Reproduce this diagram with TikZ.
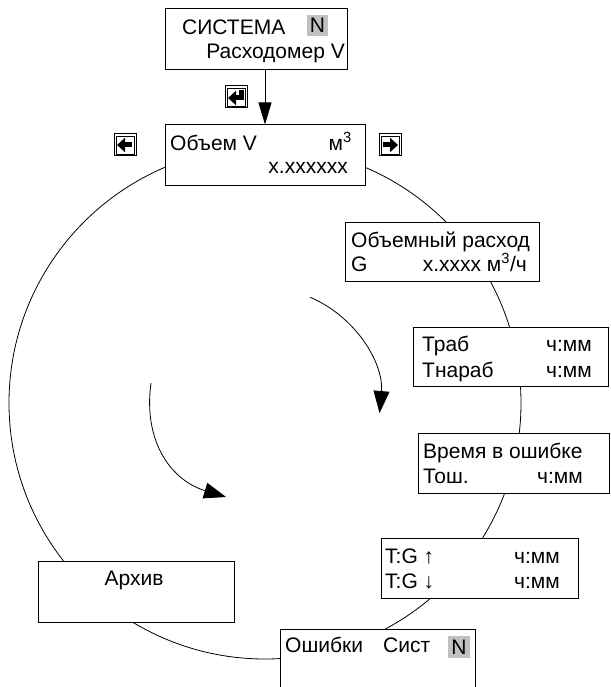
\documentclass[tikz,border=0pt]{standalone}
\usepackage{fontspec}
\setmainfont{Liberation Sans}
\usepackage{xcolor}
\usepackage{tikz}
\usetikzlibrary{arrows.meta}
\definecolor{nshade}{RGB}{192,192,192}
\newcommand{\scr}{\fontsize{21}{25}\selectfont}

\begin{document}
\begin{tikzpicture}[
  x=1pt, y=-1pt,
  every node/.style={font=\scr},
  screen/.style={draw, fill=white, line width=1pt, inner sep=0},
  ln/.style={anchor=base west, inner sep=0},
  rn/.style={anchor=base east, inner sep=0},
  flag/.style={fill=nshade, inner sep=0, minimum size=21pt},
  keycap/.style={draw, line width=1pt, minimum size=22pt, inner sep=0},
  keyarrow/.style={line width=5pt, -{Triangle[length=8pt,width=14pt]}},
  swirl/.style={line width=0.8pt, -{Triangle[length=22pt,width=16pt]}}
]
\useasboundingbox (0,0) rectangle (610,687);
\clip (0,0) rectangle (610,687);

\coordinate (ring) at (265,403);
\draw[line width=0.8pt] (ring) circle[radius=256pt];

% screens
\node[screen, minimum width=182pt, minimum height=61pt] (sys) at (256,39.5) {};
\node[screen, minimum width=200pt, minimum height=60pt] (vol) at (265,155) {};
\node[screen, minimum width=194pt, minimum height=59pt] (flow) at (442,251.5) {};
\node[screen, minimum width=195pt, minimum height=59pt] (trab) at (510.5,356.5) {};
\node[screen, minimum width=191pt, minimum height=60pt] (terr) at (513.5,463) {};
\node[screen, minimum width=197pt, minimum height=60pt] (tg) at (479.5,568) {};
\node[screen, minimum width=196pt, minimum height=61pt] (arch) at (136,591.5) {};
\node[screen, minimum width=195pt, minimum height=72pt] (errs) at (377.5,665) {};

\node[ln] (sysA) at (182,35) {СИСТЕМА};
\node[flag] (sysN) at (317.5,25.5) {N};
\node[rn] (sysB) at (345,59) {Расходомер V};

\node[ln] (volA) at (170,150) {Объем V};
\node[rn] (volU) at (352,150) {м\textsuperscript{3}};
\node[rn] (volB) at (348,173) {x.xxxxxx};

\node[ln] (flowA) at (351,247) {Объемный расход};
\node[ln] (flowG) at (351,271) {G};
\node[rn] (flowB) at (527,271) {x.xxxx м\textsuperscript{3}/ч};

\node[ln] (trabA) at (422,351) {Траб};
\node[rn] (trabAt) at (592,351) {ч:мм};
\node[ln] (trabB) at (422,377) {Тнараб};
\node[rn] (trabBt) at (592,377) {ч:мм};

\node[ln] (terrA) at (423,458) {Время в ошибке};
\node[ln] (terrB) at (423,483) {Тош.};
\node[rn] (terrBt) at (583,483) {ч:мм};

\node[ln] (tgA) at (385,563) {T:G ↑};
\node[rn] (tgAt) at (560,563) {ч:мм};
\node[ln] (tgB) at (385,588) {T:G ↓};
\node[rn] (tgBt) at (560,588) {ч:мм};

\node[anchor=base, inner sep=0] (archA) at (134,585) {Архив};

\node[ln] (errsA) at (285,652) {Ошибки};
\node[ln] (errsB) at (383,652) {Сист};
\node[flag, minimum size=22pt] (errsN) at (459,647) {N};

% keys
\node[keycap] (kenter) at (236,97) {};
\node[keycap] (kleft) at (125,145) {};
\node[keycap] (kright) at (390,145) {};
\foreach \k in {kenter,kleft,kright}
  \draw[line width=0.6pt] ([shift={(2.5pt,2.5pt)}]\k.south west) rectangle ([shift={(-2.5pt,-2.5pt)}]\k.north east);
\draw[keyarrow] ([shift={(5pt,7pt)}]kenter.center) |- ([shift={(-8pt,-1pt)}]kenter.center);
\draw[keyarrow] ([xshift=7pt]kleft.center) -- ([xshift=-8pt]kleft.center);
\draw[keyarrow] ([xshift=-7pt]kright.center) -- ([xshift=8pt]kright.center);

\draw[line width=1pt, -{Triangle[length=22pt,width=13pt]}] (vol.north |- sys.south) -- (vol.north);

% direction of scrolling
\coordinate (swirlL) at (151,383);
\coordinate (swirlLend) at (226,497);
\draw[swirl] ([shift={(67:115pt)}]ring) arc[start angle=67, end angle=-5, radius=115pt];
\draw[swirl] (swirlL) .. controls (143,440) and (170,480) .. (swirlLend);
\end{tikzpicture}
\end{document}
